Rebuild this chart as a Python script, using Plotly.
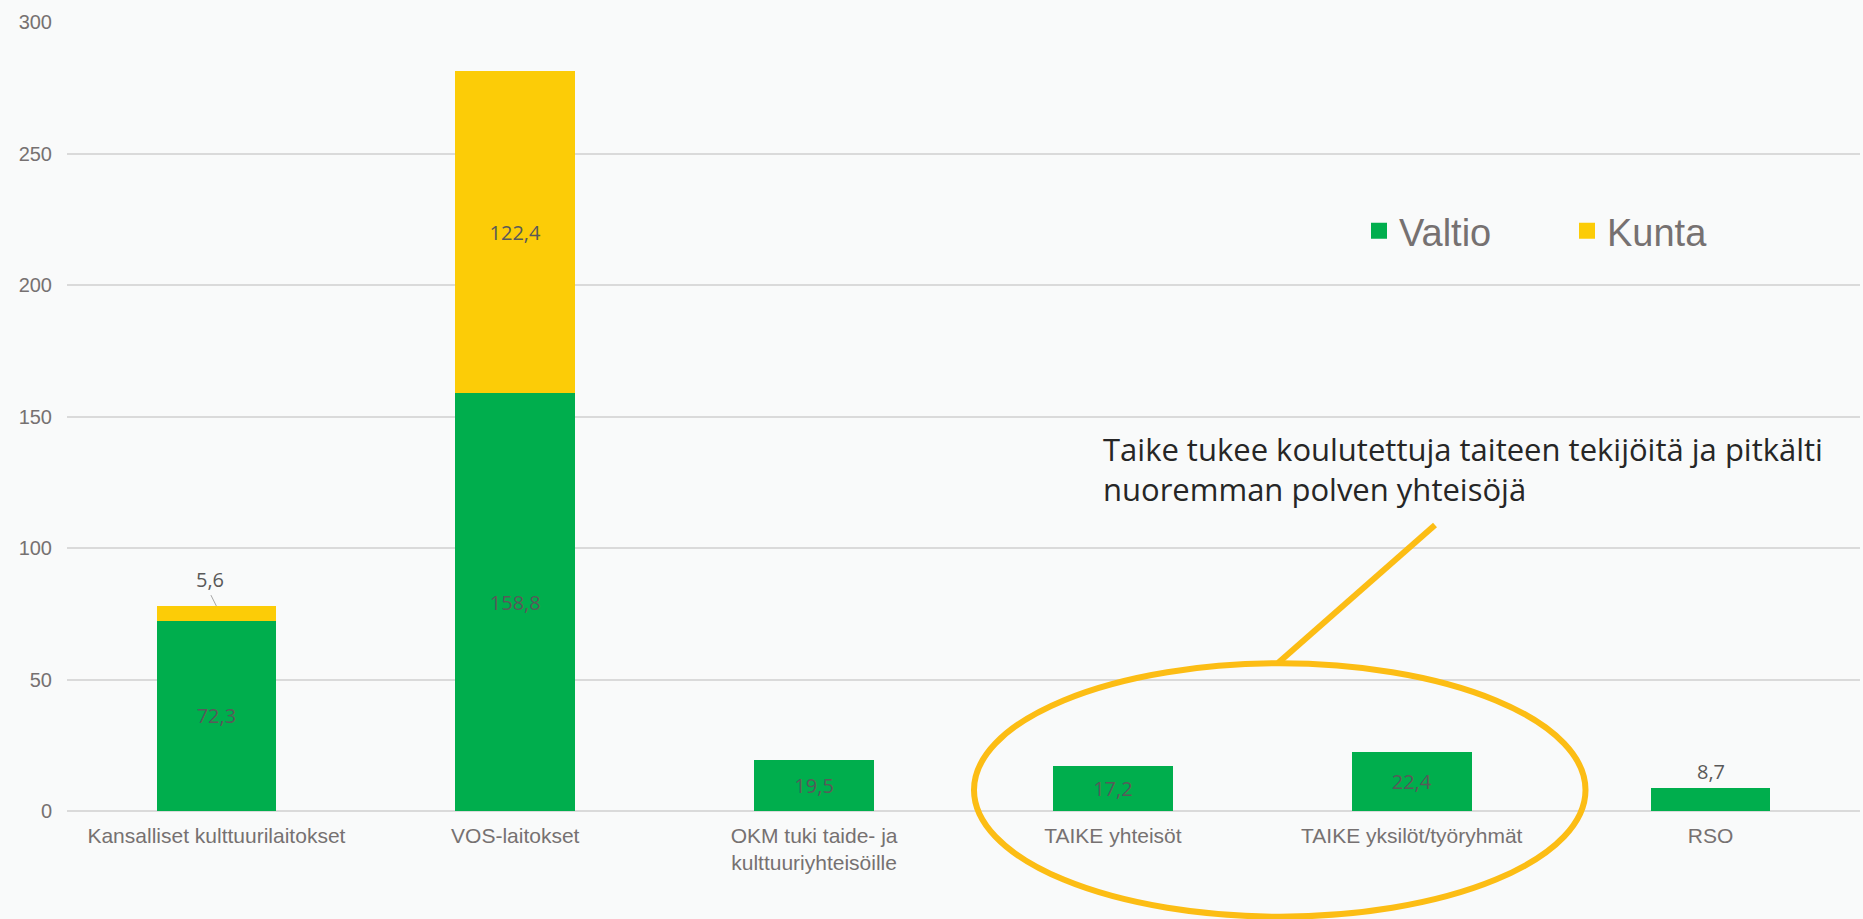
import plotly.graph_objects as go

# ---- data ----
categories = [
    "Kansalliset kulttuurilaitokset",
    "VOS-laitokset",
    "OKM tuki taide- ja<br>kulttuuriyhteisöille",
    "TAIKE yhteisöt",
    "TAIKE yksilöt/työryhmät",
    "RSO",
]
valtio = [72.3, 158.8, 19.5, 17.2, 22.4, 8.7]
kunta = [5.6, 122.4, 0, 0, 0, 0]
series_names = ["Valtio", "Kunta"]
y_ticks = [0, 50, 100, 150, 200, 250, 300]
note_lines = [
    "Taike tukee koulutettuja taiteen tekijöitä ja pitkälti",
    "nuoremman polven yhteisöjä",
]

# ---- style ----
GREEN = "#00AE4D"
YELLOW = "#FCCC07"
ORANGE = "#FCBD14"
GRID = "#DADADA"
AXIS_TXT = "#767171"
LABEL_TXT = "#595959"
BG = "#F9FAFA"

W, H = 1863, 919
L, R, T, B = 67, 3, 22, 108
PW, PH = W - L - R, H - T - B


def px(x):
    return (x - L) / PW


def py(y):
    return (H - B - y) / PH


def fmt(v):
    return f"{v:.1f}".replace(".", ",")


SMALL = 10
lbl_font = dict(family="Open Sans", size=20, color=LABEL_TXT)

fig = go.Figure()
fig.add_bar(
    x=categories, y=valtio, name=series_names[0], marker_color=GREEN,
    marker_line_width=0,
    text=[fmt(v) if v >= SMALL else "" for v in valtio],
    textposition="inside", insidetextanchor="middle", textangle=0,
    textfont=lbl_font, showlegend=False, hoverinfo="skip",
)
fig.add_bar(
    x=categories, y=kunta, name=series_names[1], marker_color=YELLOW,
    marker_line_width=0,
    text=[fmt(v) if v >= SMALL else "" for v in kunta],
    textposition="inside", insidetextanchor="middle", textangle=0,
    textfont=lbl_font, showlegend=False, hoverinfo="skip",
)
# legend entries
for nm, col in zip(series_names, [GREEN, YELLOW]):
    fig.add_scatter(
        x=[None], y=[None], mode="markers", name=nm,
        marker=dict(symbol="square", size=18, color=col),
    )

annotations = []
shapes = []
for c, v, k in zip(categories, valtio, kunta):
    if 0 < v < SMALL and k == 0:
        annotations.append(dict(
            x=c, y=v, xref="x", yref="y", text=fmt(v), showarrow=False,
            yanchor="bottom", yshift=1, font=lbl_font,
        ))
    if 0 < k < SMALL:
        annotations.append(dict(
            x=c, y=v + k, xref="x", yref="y", text=fmt(k), showarrow=False,
            xanchor="center", yanchor="middle", xshift=-6, yshift=27,
            font=lbl_font, borderpad=0,
        ))
        shapes.append(dict(
            type="line", xref="x", yref="y", xsizemode="pixel", ysizemode="pixel",
            xanchor=c, yanchor=v + k, x0=0, y0=0, x1=-5.5, y1=11,
            line=dict(color="#A6A6A6", width=1),
        ))

annotations.append(dict(
    x=px(1102), y=py(468.5), xref="paper", yref="paper",
    text="<br>".join(note_lines),
    showarrow=False, xanchor="left", yanchor="middle", align="left", borderpad=0,
    font=dict(family="Open Sans", size=31, color="#262626"),
))

shapes += [
    dict(type="circle", xref="paper", yref="paper",
         x0=px(974), x1=px(1585.5), y0=py(916.7), y1=py(663.3),
         line=dict(color=ORANGE, width=6)),
    dict(type="line", xref="paper", yref="paper",
         x0=px(1278.3), y0=py(662.7), x1=px(1435), y1=py(525),
         line=dict(color=ORANGE, width=6)),
]

fig.update_layout(
    width=W, height=H,
    margin=dict(l=L, r=R, t=T, b=B, pad=0),
    barmode="stack", bargap=0.6,
    paper_bgcolor=BG, plot_bgcolor=BG,
    separators=", ",
    font=dict(family="Liberation Sans, Arial", size=20, color=AXIS_TXT),
    showlegend=True,
    legend=dict(
        orientation="h", x=px(1359), xanchor="left", y=py(231), yanchor="middle",
        font=dict(family="Liberation Sans, Arial", size=38, color=AXIS_TXT),
        bgcolor="rgba(0,0,0,0)", entrywidth=163, itemsizing="trace",
        traceorder="normal",
    ),
    annotations=annotations,
    shapes=shapes,
)
fig.update_xaxes(
    type="category", showgrid=False, showline=False, zeroline=False, ticks="",
    tickfont=dict(family="Liberation Sans, Arial", size=21, color=AXIS_TXT),
    ticklabelstandoff=10,
)
fig.update_yaxes(
    range=[0, 300], tickvals=y_ticks, showgrid=True, gridcolor=GRID, gridwidth=1.5,
    zeroline=True, zerolinecolor=GRID, zerolinewidth=1.5, showline=False, ticks="",
    tickfont=dict(family="Liberation Sans, Arial", size=20, color=AXIS_TXT),
    ticklabelstandoff=14,
)

fig.write_html(
    "out.html",
    config={"displayModeBar": False},
    post_script="document.body.style.margin='0px';document.body.style.background='" + BG + "';",
)
